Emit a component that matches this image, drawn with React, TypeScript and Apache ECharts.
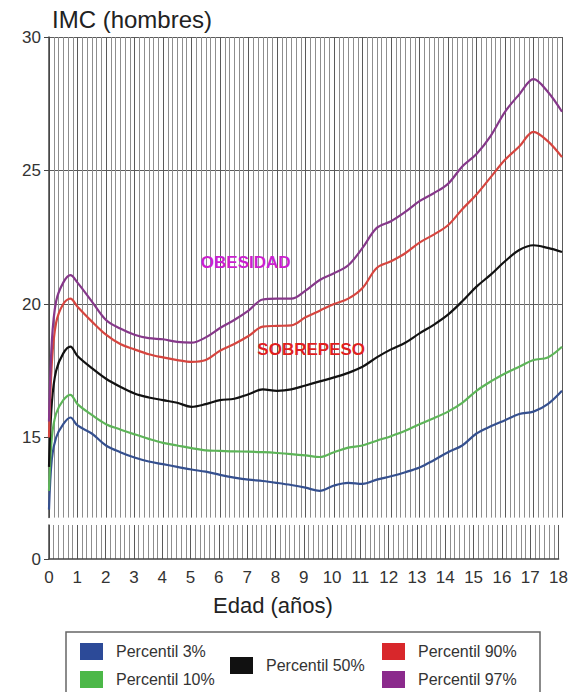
import React, { useEffect, useRef } from "react";
import * as echarts from "echarts";

// Age in years
const AGES = [0, 0.1, 0.25, 0.5, 0.75, 1, 1.5, 2, 2.5, 3, 3.5, 4, 4.5, 5, 5.5, 6, 6.5, 7, 7.5, 8, 8.5, 9, 9.5, 10, 10.5, 11, 11.5, 12, 12.5, 13, 13.5, 14, 14.5, 15, 15.5, 16, 16.5, 17, 17.5, 18];

const P3 = [12.3, 14.2, 15.0, 15.5, 15.75, 15.45, 15.15, 14.7, 14.45, 14.25, 14.1, 14.0, 13.9, 13.8, 13.72, 13.6, 13.5, 13.42, 13.37, 13.3, 13.22, 13.12, 13.0, 13.2, 13.3, 13.26, 13.42, 13.55, 13.7, 13.88, 14.15, 14.45, 14.7, 15.15, 15.42, 15.65, 15.88, 15.97, 16.25, 16.75];
const P10 = [13.0, 15.0, 15.9, 16.4, 16.6, 16.25, 15.85, 15.5, 15.3, 15.12, 14.95, 14.8, 14.7, 14.6, 14.52, 14.5, 14.48, 14.47, 14.45, 14.42, 14.38, 14.33, 14.27, 14.45, 14.62, 14.7, 14.88, 15.05, 15.25, 15.5, 15.72, 15.97, 16.3, 16.75, 17.1, 17.4, 17.65, 17.9, 18.0, 18.4];
const P50 = [13.9, 16.3, 17.5, 18.15, 18.4, 18.05, 17.6, 17.2, 16.9, 16.65, 16.5, 16.4, 16.3, 16.15, 16.25, 16.4, 16.45, 16.62, 16.8, 16.75, 16.8, 16.95, 17.1, 17.25, 17.42, 17.65, 18.0, 18.3, 18.55, 18.9, 19.22, 19.6, 20.1, 20.65, 21.1, 21.6, 22.02, 22.2, 22.1, 21.95];
const P90 = [15.0, 17.8, 19.3, 20.0, 20.2, 19.9, 19.35, 18.85, 18.5, 18.3, 18.12, 18.0, 17.9, 17.83, 17.9, 18.25, 18.5, 18.8, 19.15, 19.18, 19.2, 19.5, 19.75, 20.0, 20.2, 20.6, 21.35, 21.6, 21.9, 22.3, 22.6, 22.95, 23.55, 24.1, 24.75, 25.4, 25.9, 26.45, 26.1, 25.5];
const P97 = [15.6, 18.6, 20.1, 20.8, 21.08, 20.8, 20.1, 19.4, 19.08, 18.85, 18.72, 18.68, 18.58, 18.55, 18.75, 19.1, 19.4, 19.75, 20.17, 20.2, 20.2, 20.5, 20.9, 21.15, 21.45, 22.1, 22.85, 23.1, 23.45, 23.85, 24.15, 24.5, 25.15, 25.62, 26.3, 27.2, 27.85, 28.42, 27.95, 27.2];

const SERIES_NAMES = ["Percentil 3%", "Percentil 10%", "Percentil 50%", "Percentil 90%", "Percentil 97%"];
const Y_LABELS_TOP = [15, 20, 25, 30];
const Y_LABELS_BOTTOM = [0];
const TITLE = "IMC (hombres)";
const X_NAME = "Edad (años)";
const LABEL_OBESIDAD = "OBESIDAD";
const LABEL_SOBREPESO = "SOBREPESO";

const FONT = "Liberation Sans, Arial, Helvetica, sans-serif";
const LINE_COLORS = ["#35508f", "#5db558", "#111111", "#d6453f", "#86388a"];
const ICON_COLORS = ["#2c4a98", "#4cb848", "#111111", "#d8272b", "#8b2a8c"];

export default function App() {
  const ref = useRef<HTMLDivElement>(null);

  useEffect(() => {
    if (!ref.current) return;
    const chart = echarts.init(ref.current, null, { renderer: "svg" });
    const all = [P3, P10, P50, P90, P97];

    const xCommon = {
      type: "value",
      min: 0,
      max: 18,
      interval: 1,
      splitLine: { show: true, lineStyle: { color: "#5a5a5a", width: 1 } },
      minorTick: { show: false, splitNumber: 6 },
      minorSplitLine: { show: true, lineStyle: { color: "#8e8e8e", width: 1 } },
    };

    const series: any[] = all.map((vals, i) => ({
      name: SERIES_NAMES[i],
      type: "line",
      xAxisIndex: 0,
      yAxisIndex: 0,
      data: AGES.map((a, j) => [a, vals[j]]),
      showSymbol: false,
      smooth: 0.35,
      lineStyle: { color: LINE_COLORS[i], width: 2.2 },
      itemStyle: { color: ICON_COLORS[i] },
      z: 3,
    }));

    const annot = (text: string, color: string, coord: number[]) => ({
      symbol: "circle",
      symbolSize: 1,
      itemStyle: { color: "rgba(0,0,0,0)" },
      label: {
        show: true,
        position: "inside",
        formatter: text,
        color,
        fontWeight: "bold",
        fontSize: 17,
        fontFamily: FONT,
      },
      data: [{ coord }],
    });
    series[4].markPoint = annot(LABEL_OBESIDAD, "#cc1fd0", [6.9, 21.57]);
    series[3].markPoint = annot(LABEL_SOBREPESO, "#e01f1f", [9.2, 18.3]);

    const legendBase = {
      orient: "vertical",
      icon: "rect",
      padding: 0,
      itemWidth: 23,
      itemHeight: 17,
      itemGap: 11,
      selectedMode: false,
      textStyle: { fontSize: 16, color: "#333", fontFamily: FONT, padding: [0, 0, 0, 8] },
    };
    const legendItem = (i: number) => ({ name: SERIES_NAMES[i], itemStyle: { color: ICON_COLORS[i] } });

    chart.setOption({
      animation: false,
      textStyle: { fontFamily: FONT },
      title: {
        text: TITLE,
        left: 52,
        top: 7,
        padding: 0,
        textStyle: { fontSize: 24, fontWeight: "normal", color: "#222", fontFamily: FONT },
      },
      grid: [
        { left: 49, right: 9, top: 37, bottom: 174.4 },
        { left: 49, right: 9, top: 525, bottom: 133 },
      ],
      xAxis: [
        {
          ...xCommon,
          gridIndex: 0,
          axisLine: { show: false },
          axisTick: { show: false },
          axisLabel: { show: false },
        },
        {
          ...xCommon,
          gridIndex: 1,
          axisLine: { show: true, onZero: false, lineStyle: { color: "#444", width: 1.5 } },
          axisTick: { show: false },
          axisLabel: { show: true, fontSize: 17, color: "#333", margin: 10, fontFamily: FONT },
        },
      ],
      yAxis: [
        {
          type: "value",
          gridIndex: 0,
          min: 12,
          max: 30,
          interval: 1,
          axisLine: { show: true, lineStyle: { color: "#444", width: 1.5 } },
          axisTick: { show: true, length: 5, customValues: Y_LABELS_TOP, lineStyle: { color: "#444" } },
          axisLabel: { show: true, customValues: Y_LABELS_TOP, fontSize: 17, color: "#333", margin: 8, fontFamily: FONT },
          splitLine: { show: true, showMinLine: false, lineStyle: { color: "#5c5c5c", width: 1.2 } },
        },
        {
          type: "value",
          gridIndex: 1,
          min: 0,
          max: 1.2,
          axisLine: { show: true, lineStyle: { color: "#444", width: 1.5 } },
          axisTick: { show: true, length: 5, customValues: Y_LABELS_BOTTOM, lineStyle: { color: "#444" } },
          axisLabel: { show: true, customValues: Y_LABELS_BOTTOM, fontSize: 17, color: "#333", margin: 8, fontFamily: FONT },
          splitLine: { show: false },
        },
      ],
      legend: [
        { ...legendBase, left: 80, top: 643, data: [legendItem(0), legendItem(1)] },
        { ...legendBase, left: 230, top: 657, data: [legendItem(2)] },
        { ...legendBase, left: 382, top: 643, data: [legendItem(3), legendItem(4)] },
      ],
      graphic: [
        {
          type: "text",
          x: 213,
          y: 594,
          style: { text: X_NAME, fontSize: 22, fill: "#222", fontFamily: FONT, textVerticalAlign: "top" },
        },
        {
          type: "rect",
          shape: { x: 66, y: 632, width: 474, height: 80 },
          style: { fill: "none", stroke: "#666", lineWidth: 1.5 },
          silent: true,
        },
      ],
      series,
    });

    return () => chart.dispose();
  }, []);

  return (
    <div
      ref={ref}
      style={{ position: "fixed", left: 0, top: 0, width: 571, height: 692, background: "#fff" }}
    />
  );
}
